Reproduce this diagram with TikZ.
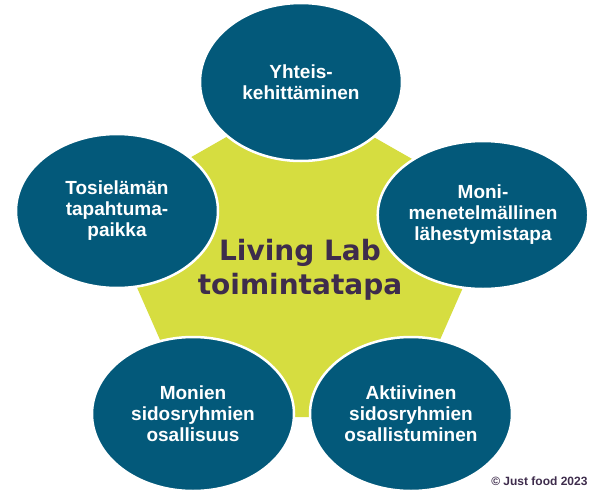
\documentclass[tikz,border=0pt]{standalone}
\usepackage{fontspec}
\usetikzlibrary{shapes.geometric, positioning}

\newfontfamily\bubblefont{Liberation Sans}
\newfontfamily\hubfont{DejaVu Sans}

\definecolor{labblue}{RGB}{3,89,122}
\definecolor{labyellow}{RGB}{214,221,64}
\definecolor{labpurple}{RGB}{62,44,76}

\begin{document}
\begin{tikzpicture}[
    x=1pt, y=-1pt,
    bubble/.style={ellipse, draw=white, line width=2.5pt, fill=labblue, text=white, minimum width=202pt, minimum height=154pt, inner sep=0pt, align=center, font=\bubblefont\bfseries\fontsize{19}{21}\selectfont},
    hub/.style={text=labpurple, align=center, font=\hubfont\bfseries\fontsize{28}{34}\selectfont},
    credit/.style={text=labpurple, font=\bubblefont\bfseries\fontsize{12}{14}\selectfont}
]
    \useasboundingbox (0,0) rectangle (600,501);

    % central pentagon
    \coordinate (ptop) at (300,95);
    \coordinate (pright) at (498,208);
    \coordinate (pbr) at (406,417);
    \coordinate (pbl) at (194,417);
    \coordinate (pleft) at (102,208);
    \fill[labyellow] (ptop) -- (pright) -- (pbr) -- (pbl) -- (pleft) -- cycle;

    \node[hub] (living) at (300,270) {Living Lab\\toimintatapa};

    % the five bubbles
    \node[bubble, minimum height=158pt] (yhteis) at (301,82) {Yhteis-\\kehittäminen};
    \node[bubble] (tosi) at (117,211) {Tosielämän\\tapahtuma-\\paikka};
    \node[bubble, minimum height=148pt] (moni) at (483,215) {Moni-\\menetelmällinen\\lähestymistapa};
    \node[bubble] (monien) at (193,414) {Monien\\sidosryhmien\\osallisuus};
    \node[bubble] (aktiivinen) at (411,414) {Aktiivinen\\sidosryhmien\\osallistuminen};

    \node[credit, anchor=base east] (copy) at (591,485) {© Just food 2023};
\end{tikzpicture}
\end{document}
